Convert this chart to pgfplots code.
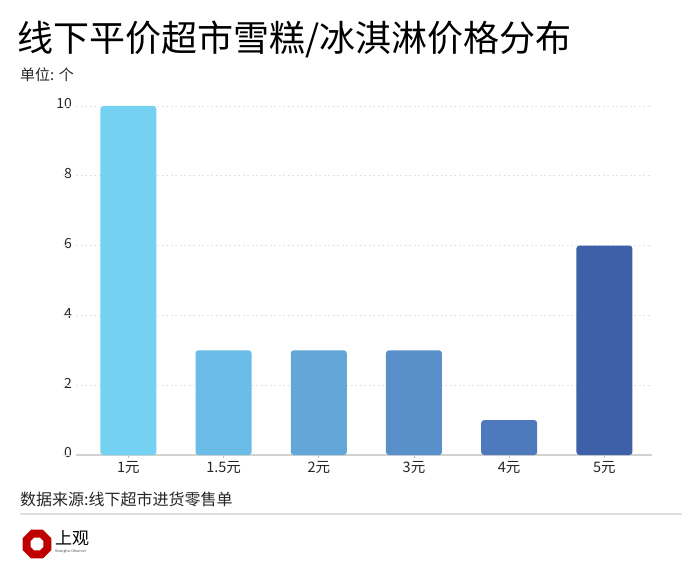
\documentclass[border=0pt]{standalone}
\usepackage{pgfplots}
\pgfplotsset{compat=1.18}
\usepackage{fontspec}
\setmainfont{Noto Sans CJK SC}
\usetikzlibrary{shapes.geometric}
\definecolor{c1}{HTML}{74D1F1}
\definecolor{c2}{HTML}{6BBCE6}
\definecolor{c3}{HTML}{63A6D8}
\definecolor{c4}{HTML}{5990CA}
\definecolor{c5}{HTML}{4E7ABD}
\definecolor{c6}{HTML}{3E60A8}
\definecolor{gridc}{HTML}{E4E4E4}
\begin{document}
\begin{tikzpicture}[x=1pt,y=1pt]
\fill[white] (0,0) rectangle (700,576);
\node[anchor=west,font=\fontsize{36}{38}\selectfont,text=black,inner sep=0pt] at (17,537) {线下平价超市雪糕/冰淇淋价格分布};
\node[anchor=west,font=\fontsize{15}{17}\selectfont,text=black!85,inner sep=0pt] at (20,501) {单位: 个};
\begin{axis}[
  at={(76pt,121pt)}, anchor=south west,
  scale only axis, width=576pt, height=349pt,
  xmin=-0.55, xmax=5.5, ymin=0, ymax=10,
  xtick={0,1,2,3,4,5},
  xticklabels={1元,1.5元,2元,3元,4元,5元},
  ytick={0,2,4,6,8,10},
  yticklabels={},
  axis x line*=bottom, axis y line*=left,
  y axis line style={draw=none},
  x axis line style={draw=gray!35, line width=1.2pt},
  ymajorgrids, grid style={draw=gridc, dash pattern=on 2pt off 2.5pt, line width=0.7pt},
  tick style={draw=gray!50, line width=0.6pt},
  ytick style={draw=none},
  major tick length=3pt,
  tick align=outside,
  xticklabel style={font=\fontsize{14.5}{16}\selectfont, text=black!85},
  clip=false,
]
\addplot[ybar, bar width=56pt, fill=c1, draw=none, rounded corners=3pt] coordinates {(0,10)};
\addplot[ybar, bar width=56pt, fill=c2, draw=none, rounded corners=3pt] coordinates {(1,3)};
\addplot[ybar, bar width=56pt, fill=c3, draw=none, rounded corners=3pt] coordinates {(2,3)};
\addplot[ybar, bar width=56pt, fill=c4, draw=none, rounded corners=3pt] coordinates {(3,3)};
\addplot[ybar, bar width=56pt, fill=c5, draw=none, rounded corners=3pt] coordinates {(4,1)};
\addplot[ybar, bar width=56pt, fill=c6, draw=none, rounded corners=3pt] coordinates {(5,6)};
\end{axis}
% y tick labels
\foreach \v in {0,2,4,6,8,10} {
  \node[anchor=east,font=\fontsize{14}{15}\selectfont,text=black!85,inner sep=0pt] at (72,{123+34.9*\v}) {\v};
  \draw[gridc, line width=0.8pt] (63,{121+34.9*\v}) -- (70,{121+34.9*\v});
}
\node[anchor=west,font=\fontsize{16}{18}\selectfont,text=black!85,inner sep=0pt] at (20,77) {数据来源:线下超市进货零售单};
\draw[gray!25, line width=1.2pt] (20,62) -- (682,62);
% logo
\node[regular polygon, regular polygon sides=8, fill=red!75!black, minimum size=31pt, inner sep=0pt] at (37,32) {};
\node[regular polygon, regular polygon sides=8, fill=white, minimum size=14pt, inner sep=0pt] at (37,32) {};
\node[anchor=west,font=\fontsize{17}{18}\selectfont,inner sep=0pt] at (55,38) {上观};
\node[anchor=west,font=\fontsize{3.5}{4}\selectfont,inner sep=0pt,text=black!70] at (55,24) {Shanghai Observer};
\end{tikzpicture}
\end{document}
